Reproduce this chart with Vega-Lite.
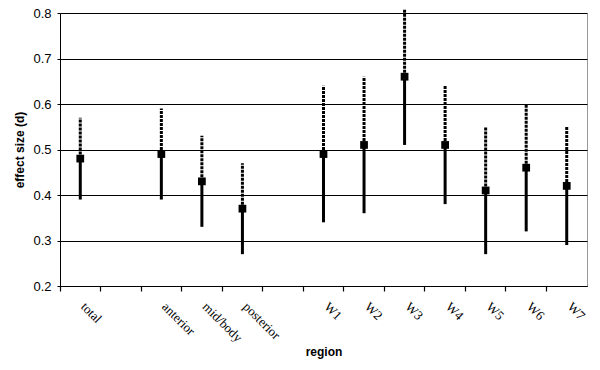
{
  "$schema": "https://vega.github.io/schema/vega-lite/v6.json",
  "width": 527,
  "height": 273,
  "autosize": "none",
  "padding": {"left": 60, "top": 13, "right": 13, "bottom": 84},
  "background": "white",
  "config": {"view": {"stroke": "#999999", "strokeWidth": 1}, "font": "Liberation Sans"},
  "data": {
    "values": [
      {"region": "total", "d": 0.48, "low": 0.39, "high": 0.57},
      {"region": "anterior", "d": 0.49, "low": 0.39, "high": 0.59},
      {"region": "mid/body", "d": 0.43, "low": 0.33, "high": 0.53},
      {"region": "posterior", "d": 0.37, "low": 0.27, "high": 0.47},
      {"region": "W1", "d": 0.49, "low": 0.34, "high": 0.64},
      {"region": "W2", "d": 0.51, "low": 0.36, "high": 0.66},
      {"region": "W3", "d": 0.66, "low": 0.51, "high": 0.807},
      {"region": "W4", "d": 0.51, "low": 0.38, "high": 0.64},
      {"region": "W5", "d": 0.41, "low": 0.27, "high": 0.55},
      {"region": "W6", "d": 0.46, "low": 0.32, "high": 0.60},
      {"region": "W7", "d": 0.42, "low": 0.29, "high": 0.55}
    ]
  },
  "encoding": {
    "x": {
      "field": "region",
      "type": "nominal",
      "scale": {
        "domain": ["total", "gap1", "anterior", "mid/body", "posterior", "gap2", "W1", "W2", "W3", "W4", "W5", "W6", "W7"],
        "paddingInner": 0,
        "paddingOuter": 0
      },
      "axis": {
        "title": "region",
        "titleFont": "Liberation Sans",
        "titleFontSize": 12,
        "titleFontWeight": "bold",
        "titleColor": "black",
        "titlePadding": 2,
        "labelExpr": "indexof(datum.value, 'gap') == 0 ? '' : datum.value",
        "labelAngle": 45,
        "labelAlign": "left",
        "labelBaseline": "top",
        "labelFont": "Liberation Serif",
        "labelFontSize": 13,
        "labelColor": "black",
        "labelPadding": 9,
        "bandPosition": 0,
        "labelOffset": 7,
        "ticks": true,
        "tickColor": "black",
        "tickSize": 5,
        "tickWidth": 1.2,
        "tickOpacity": 1,
        "domainColor": "black",
        "grid": false
      }
    },
    "y": {
      "field": "d",
      "type": "quantitative",
      "scale": {"domain": [0.2, 0.8], "nice": false, "zero": false},
      "axis": {
        "title": "effect size (d)",
        "titleFont": "Liberation Sans",
        "titleFontSize": 12,
        "titleFontWeight": "bold",
        "titleColor": "black",
        "titlePadding": 6,
        "values": [0.2, 0.3, 0.4, 0.5, 0.6, 0.7, 0.8],
        "format": ".1f",
        "labelFont": "Liberation Sans",
        "labelFontSize": 13,
        "labelColor": "black",
        "labelPadding": 6,
        "tickColor": "black",
        "tickSize": 3,
        "domainColor": "black",
        "grid": true,
        "gridColor": "black",
        "gridOpacity": 1,
        "gridWidth": 1
      }
    }
  },
  "layer": [
    {
      "mark": {"type": "rule", "strokeWidth": 3, "color": "black", "strokeDash": [3, 1]},
      "encoding": {
        "y2": {"field": "high"}
      }
    },
    {
      "mark": {"type": "rule", "strokeWidth": 3, "color": "black"},
      "encoding": {
        "y": {"field": "low", "type": "quantitative"},
        "y2": {"field": "d"}
      }
    },
    {
      "mark": {"type": "point", "shape": "square", "filled": true, "size": 60, "color": "black", "opacity": 1},
      "encoding": {}
    }
  ]
}
